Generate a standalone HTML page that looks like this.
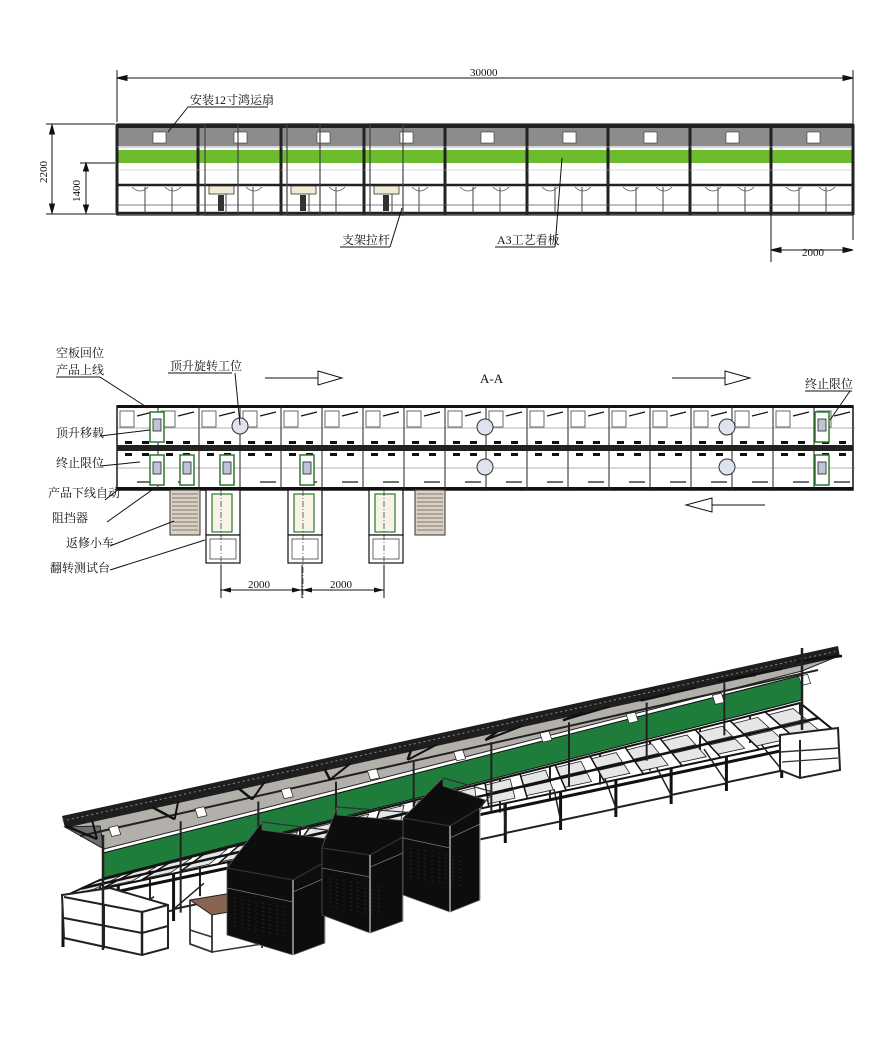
<!DOCTYPE html>
<html><head><meta charset="utf-8">
<style>
html,body{margin:0;padding:0;background:#fff}
svg{display:block}
text{font-family:"Liberation Serif","Noto Serif CJK SC","Noto Sans CJK SC",serif;fill:#111}
.cn{font-size:12px}
</style></head>
<body>
<svg id="s" width="880" height="1045" viewBox="0 0 880 1045" xmlns="http://www.w3.org/2000/svg">
<g fill="none" stroke="#111" stroke-width="1">
<line x1="117" y1="78" x2="853" y2="78"/>
<line x1="117" y1="70" x2="117" y2="122"/><line x1="853" y1="70" x2="853" y2="240"/>
<polygon points="117,78 127,75.5 127,80.5" fill="#111"/><polygon points="853,78 843,75.5 843,80.5" fill="#111"/>
<line x1="52" y1="125" x2="52" y2="213"/><line x1="46" y1="124" x2="115" y2="124"/><line x1="46" y1="214" x2="115" y2="214"/>
<polygon points="52,125 49.5,134 54.5,134" fill="#111"/><polygon points="52,213 49.5,204 54.5,204" fill="#111"/>
<line x1="86" y1="163" x2="86" y2="213"/><line x1="80" y1="163" x2="115" y2="163"/>
<polygon points="86,163 83.5,171 88.5,171" fill="#111"/><polygon points="86,213 83.5,205 88.5,205" fill="#111"/>
<line x1="771" y1="250" x2="853" y2="250"/><line x1="771" y1="215" x2="771" y2="262"/>
<polygon points="771,250 781,247.5 781,252.5" fill="#111"/><polygon points="853,250 843,247.5 843,252.5" fill="#111"/>
</g>
<text x="470" y="76" font-size="11">30000</text>
<text x="47" y="183" font-size="11" transform="rotate(-90 47 183)">2200</text>
<text x="80" y="202" font-size="11" transform="rotate(-90 80 202)">1400</text>
<text x="802" y="256" font-size="11">2000</text>

<rect x="117" y="124" width="736" height="4" fill="#222"/>
<rect x="117" y="128" width="736" height="18" fill="#8c8c8c"/>
<rect x="117" y="150" width="736" height="13" fill="#6dbb2e"/>
<line x1="117" y1="185" x2="853" y2="185" stroke="#222" stroke-width="2.5"/>
<line x1="117" y1="213" x2="853" y2="213" stroke="#222" stroke-width="2.5"/>
<g id="elev"></g>

<text x="190" y="104" class="cn">安装12寸鸿运扇</text>
<line x1="188" y1="107" x2="268" y2="107" stroke="#111"/>
<line x1="188" y1="107" x2="168" y2="132" stroke="#111"/>
<text x="342" y="244" class="cn">支架拉杆</text>
<line x1="340" y1="247" x2="390" y2="247" stroke="#111"/>
<line x1="390" y1="247" x2="402" y2="208" stroke="#111"/>
<text x="497" y="244" class="cn">A3工艺看板</text>
<line x1="495" y1="247" x2="555" y2="247" stroke="#111"/>
<line x1="555" y1="247" x2="562" y2="158" stroke="#111"/>

<g id="plan"></g>
<text x="56" y="357" class="cn">空板回位</text>
<text x="56" y="374" class="cn">产品上线</text>
<line x1="56" y1="377" x2="100" y2="377" stroke="#111"/>
<line x1="100" y1="377" x2="148" y2="408" stroke="#111"/>
<text x="170" y="370" class="cn">顶升旋转工位</text>
<line x1="168" y1="373" x2="232" y2="373" stroke="#111"/>
<line x1="235" y1="373" x2="240" y2="425" stroke="#111"/>
<text x="56" y="437" class="cn">顶升移载</text>
<line x1="100" y1="436" x2="150" y2="430" stroke="#111"/>
<text x="56" y="467" class="cn">终止限位</text>
<line x1="100" y1="466" x2="140" y2="462" stroke="#111"/>
<text x="48" y="497" class="cn" font-size="11">产品下线自动</text>
<line x1="105" y1="500" x2="120" y2="488" stroke="#111"/>
<text x="52" y="522" class="cn">阻挡器</text>
<line x1="107" y1="522" x2="152" y2="490" stroke="#111"/>
<text x="66" y="547" class="cn">返修小车</text>
<line x1="110" y1="546" x2="174" y2="521" stroke="#111"/>
<text x="50" y="572" class="cn">翻转测试台</text>
<line x1="110" y1="570" x2="205" y2="540" stroke="#111"/>
<text x="480" y="383" font-size="13">A-A</text>
<text x="805" y="388" class="cn">终止限位</text>
<line x1="805" y1="391" x2="852" y2="391" stroke="#111"/>
<line x1="850" y1="391" x2="830" y2="420" stroke="#111"/>
<g stroke="#111" fill="#fff">
<line x1="265" y1="378" x2="318" y2="378"/><polygon points="318,371 342,378 318,385"/>
<line x1="672" y1="378" x2="725" y2="378"/><polygon points="725,371 750,378 725,385"/>
<line x1="765" y1="505" x2="712" y2="505"/><polygon points="712,498 686,505 712,512"/>
</g>
<g stroke="#111">
<line x1="220" y1="590" x2="384" y2="590"/>
<line x1="221" y1="565" x2="221" y2="598"/><line x1="302" y1="565" x2="302" y2="598"/><line x1="384" y1="565" x2="384" y2="598"/>
</g>
<g fill="#111"><polygon points="221,590 231,587.5 231,592.5"/><polygon points="302,590 292,587.5 292,592.5"/><polygon points="302,590 312,587.5 312,592.5"/><polygon points="384,590 374,587.5 374,592.5"/></g>
<text x="248" y="588" font-size="11">2000</text>
<text x="330" y="588" font-size="11">2000</text>

<g id="iso"></g>
</svg>
<script>
var NS="http://www.w3.org/2000/svg";
function el(p,t,a){var e=document.createElementNS(NS,t);for(var k in a)e.setAttribute(k,a[k]);p.appendChild(e);return e;}
function pts(a){return a.map(function(p){return p[0].toFixed(1)+','+p[1].toFixed(1)}).join(' ');}
var E=document.getElementById('elev');
var xs=[117,198,281,364,445,527,608,690,771,853];
for(var i=0;i<xs.length;i++){el(E,'rect',{x:xs[i]-1.5,y:124,width:3,height:91,fill:'#222'});}
for(var i=0;i<9;i++){var x=xs[i];el(E,'rect',{x:x+36,y:132,width:13,height:11,fill:'#fff',stroke:'#333','stroke-width':0.6});
 el(E,'line',{x1:x,y1:147,x2:x+81,y2:147,stroke:'#999','stroke-width':0.8});
 el(E,'line',{x1:x,y1:170,x2:x+81,y2:170,stroke:'#bbb','stroke-width':0.6});
 el(E,'line',{x1:x+28,y1:187,x2:x+28,y2:213,stroke:'#444','stroke-width':1});
 el(E,'line',{x1:x+55,y1:187,x2:x+55,y2:213,stroke:'#444','stroke-width':1});
 el(E,'line',{x1:x,y1:205,x2:x+81,y2:205,stroke:'#555','stroke-width':0.8});
 el(E,'path',{d:'M'+(x+15)+' 187 q8 8 16 0 M'+(x+48)+' 187 q8 8 16 0',fill:'none',stroke:'#555','stroke-width':0.8});}
[208,290,373].forEach(function(x){el(E,'rect',{x:x-3,y:124,width:33,height:91,fill:'none',stroke:'#444','stroke-width':1.2});
 el(E,'rect',{x:x+1,y:186,width:25,height:8,fill:'#f2ecd6',stroke:'#333','stroke-width':0.8});
 el(E,'rect',{x:x+10,y:195,width:6,height:16,fill:'#333'});});
el(E,'rect',{x:117,y:124,width:736,height:91,fill:'none',stroke:'#222','stroke-width':1.2});
var P=document.getElementById('plan');
el(P,'rect',{x:117,y:406,width:736,height:84,fill:'#fff',stroke:'#111','stroke-width':1.5});
el(P,'rect',{x:117,y:445,width:736,height:6,fill:'#222'});
el(P,'rect',{x:117,y:405,width:736,height:3,fill:'#111'});
el(P,'rect',{x:117,y:487,width:736,height:3,fill:'#111'});
for(var x=117;x<853;x+=41){
 el(P,'line',{x1:x,y1:406,x2:x,y2:490,stroke:'#222','stroke-width':1});
 el(P,'rect',{x:x+3,y:411,width:14,height:16,fill:'none',stroke:'#444','stroke-width':0.8});
 el(P,'rect',{x:x+8,y:441,width:7,height:3,fill:'#111'});el(P,'rect',{x:x+25,y:441,width:7,height:3,fill:'#111'});
 el(P,'rect',{x:x+8,y:453,width:7,height:3,fill:'#111'});el(P,'rect',{x:x+25,y:453,width:7,height:3,fill:'#111'});
 el(P,'line',{x1:x+20,y1:416,x2:x+36,y2:412,stroke:'#111','stroke-width':1.2});
 el(P,'line',{x1:x+20,y1:482,x2:x+36,y2:482,stroke:'#111','stroke-width':1.2});
 el(P,'line',{x1:x,y1:428,x2:x+41,y2:428,stroke:'#666','stroke-width':0.6});
 el(P,'line',{x1:x,y1:468,x2:x+41,y2:468,stroke:'#666','stroke-width':0.6});}
[[240,426],[485,427],[727,427],[485,467],[727,467]].forEach(function(c){el(P,'circle',{cx:c[0],cy:c[1],r:8,fill:'#dfe3ee',stroke:'#333','stroke-width':1});});
[[150,412],[150,455],[180,455],[220,455],[300,455],[815,412],[815,455]].forEach(function(c){
 el(P,'rect',{x:c[0],y:c[1],width:14,height:30,fill:'#fff',stroke:'#2a7a2a','stroke-width':1.5});
 el(P,'rect',{x:c[0]+3,y:c[1]+7,width:8,height:12,fill:'#bcc6d8',stroke:'#222','stroke-width':0.8});});
[170,415].forEach(function(x){el(P,'rect',{x:x,y:490,width:30,height:45,fill:'#d9d1c6',stroke:'#333','stroke-width':1});
 for(var y=494;y<533;y+=4)el(P,'line',{x1:x+2,y1:y,x2:x+28,y2:y,stroke:'#6a5a4a','stroke-width':0.8});});
[205,287,368].forEach(function(x){
 el(P,'rect',{x:x+1,y:490,width:34,height:45,fill:'#fff',stroke:'#111','stroke-width':1.2});
 el(P,'rect',{x:x+7,y:494,width:20,height:38,fill:'#f7f3e6',stroke:'#2a7a2a','stroke-width':1.2});
 el(P,'rect',{x:x+1,y:535,width:34,height:28,fill:'#fff',stroke:'#111','stroke-width':1.2});
 el(P,'rect',{x:x+5,y:539,width:26,height:20,fill:'none',stroke:'#444','stroke-width':0.8});
 el(P,'line',{x1:x+16,y1:490,x2:x+16,y2:598,stroke:'#111','stroke-width':0.6,'stroke-dasharray':'6 2 1 2'});});

var G=document.getElementById('iso');
function lerp(a,b,t){return [a[0]+(b[0]-a[0])*t,a[1]+(b[1]-a[1])*t];}
var F0=[63,897],F1=[837,733], B0=[100,880],B1=[800,703];
function F(t){return lerp(F0,F1,t);} function B(t){return lerp(B0,B1,t);}
el(G,'polygon',{points:pts([F0,F1,B1,B0]),fill:'#fff',stroke:'#111','stroke-width':2});
for(var i=0;i<=14;i++){var t=i/14,p=F(t),h=50-18*t;
 el(G,'line',{x1:p[0],y1:p[1],x2:p[0],y2:p[1]+h,stroke:'#111','stroke-width':3});
 var q=B(t); el(G,'line',{x1:q[0],y1:q[1],x2:q[0],y2:q[1]+h-6,stroke:'#222','stroke-width':2});
 if(i<14){var p2=F((i+1)/14);el(G,'line',{x1:p[0],y1:p[1]+h*0.75,x2:p2[0],y2:p2[1]+h*0.75,stroke:'#222','stroke-width':2});
 el(G,'line',{x1:p[0],y1:p[1]+h*0.75,x2:q[0]+4,y2:q[1]+h*0.6,stroke:'#222','stroke-width':1.5});}}
el(G,'line',{x1:F0[0],y1:F0[1]+6,x2:F1[0],y2:F1[1]+6,stroke:'#111','stroke-width':3});
for(var i=0;i<20;i++){var t=i/20,t2=(i+0.7)/20;
 var a=lerp(F(t),B(t),0.12),b=lerp(F(t2),B(t2),0.12),c=lerp(F(t2),B(t2),0.45),d=lerp(F(t),B(t),0.45);
 el(G,'polygon',{points:pts([a,b,c,d]),fill:'#e6e6e6',stroke:'#222','stroke-width':0.8});
 a=lerp(F(t),B(t),0.55);b=lerp(F(t2),B(t2),0.55);c=lerp(F(t2),B(t2),0.9);d=lerp(F(t),B(t),0.9);
 el(G,'polygon',{points:pts([a,b,c,d]),fill:'#e6e6e6',stroke:'#222','stroke-width':0.8});
 var u=F(t),v=B(t);el(G,'line',{x1:u[0],y1:u[1],x2:v[0],y2:v[1],stroke:'#111','stroke-width':1.5});}
var m1=lerp(F0,B0,0.5),m2=lerp(F1,B1,0.5);
el(G,'line',{x1:m1[0],y1:m1[1],x2:m2[0],y2:m2[1],stroke:'#111','stroke-width':2.5});
el(G,'polygon',{points:'780,735 838,728 840,770 800,778 780,770',fill:'#fff',stroke:'#222','stroke-width':2});
el(G,'line',{x1:800,y1:740,x2:800,y2:778,stroke:'#222','stroke-width':2});
el(G,'line',{x1:780,y1:752,x2:840,y2:748,stroke:'#333','stroke-width':1.5});
el(G,'line',{x1:782,y1:762,x2:838,y2:758,stroke:'#333','stroke-width':1.2});
el(G,'polygon',{points:'62,895 110,888 168,905 168,948 142,955 64,938',fill:'#fff',stroke:'#222','stroke-width':2});
el(G,'line',{x1:64,y1:897,x2:142,y2:912,stroke:'#222','stroke-width':2});
el(G,'line',{x1:142,y1:912,x2:142,y2:955,stroke:'#222','stroke-width':2.5});
el(G,'line',{x1:64,y1:918,x2:142,y2:933,stroke:'#222','stroke-width':2});
el(G,'line',{x1:142,y1:933,x2:168,y2:926,stroke:'#222','stroke-width':2});
el(G,'line',{x1:142,y1:912,x2:168,y2:905,stroke:'#222','stroke-width':2});
el(G,'line',{x1:104,y1:905,x2:104,y2:948,stroke:'#222','stroke-width':2});
var R0=[62,816],R1=[838,646];
var G0=[103,853],G1=[802,675];
function R(t){return lerp(R0,R1,t);} function Gt(t){return lerp(G0,G1,t);}
el(G,'polygon',{points:pts([[65,827],[836,657],[802,671],[104,849]]),fill:'#b3afab',stroke:'#222','stroke-width':1});
el(G,'polygon',{points:pts([[65,827],[100,826],[104,849]]),fill:'#6e6e6e',stroke:'#222'});
el(G,'polygon',{points:pts([G0,G1,[802,700],[103,878]]),fill:'#1f7d3c',stroke:'#111','stroke-width':1});
el(G,'polygon',{points:pts([R0,R1,[840,657],[65,828]]),fill:'#1e1e1e'});
el(G,'line',{x1:62,y1:821,x2:838,y2:651,stroke:'#888','stroke-width':1,'stroke-dasharray':'2 3'});
el(G,'line',{x1:80,y1:836,x2:818,y2:670,stroke:'#222','stroke-width':2});
for(var i=0;i<=9;i++){var t=i/9;var r=R(t),g=Gt(t);
 el(G,'line',{x1:r[0]+4,y1:r[1]+10,x2:g[0]-6,y2:g[1]-14,stroke:'#111','stroke-width':2.5});
 if(i<9)el(G,'line',{x1:r[0]+30,y1:r[1]+4,x2:g[0]-6,y2:g[1]-14,stroke:'#111','stroke-width':2});
 if(i<9){var w=R((i+0.45)/9);
  el(G,'polygon',{points:pts([[w[0]+8,w[1]+20],[w[0]+17,w[1]+18],[w[0]+20,w[1]+27],[w[0]+11,w[1]+29]]),fill:'#fff',stroke:'#222','stroke-width':0.7});}
 el(G,'line',{x1:g[0],y1:g[1]-12,x2:g[0],y2:g[1]+85-50*t,stroke:'#222','stroke-width':2});}
el(G,'line',{x1:802,y1:648,x2:802,y2:730,stroke:'#222','stroke-width':2.5});
el(G,'line',{x1:103,y1:835,x2:103,y2:950,stroke:'#222','stroke-width':2.5});
el(G,'polygon',{points:'190,900 238,892 262,906 212,915',fill:'#8a6450',stroke:'#222'});
el(G,'polyline',{points:'190,900 190,944 212,952 212,915',fill:'none',stroke:'#333','stroke-width':1.8});
el(G,'line',{x1:262,y1:906,x2:262,y2:948,stroke:'#333','stroke-width':1.8});
el(G,'line',{x1:212,y1:952,x2:262,y2:944,stroke:'#333','stroke-width':1.5});
el(G,'line',{x1:190,y1:930,x2:212,y2:937,stroke:'#333','stroke-width':1.5});
[[227,262,293,325,343,868,822,880,955,935,832],[322,337,370,403,417,848,807,855,933,915,813],[403,443,450,480,493,818,778,826,912,895,792]].forEach(function(c){
 var xl=c[0],xt=c[1],xf=c[2],xs_=c[3],xb=c[4],yl=c[5],yt=c[6],yf=c[7],ybf=c[8],ybl=c[9],ytb=c[10];
 el(G,'polygon',{points:pts([[xl,ybl],[xl,yl],[xt,yt],[xt,yt+8],[xb-8,ytb+8],[xs_,yf-14],[xs_,ybf-12],[xf,ybf]]),fill:'#0d0d0d',stroke:'#555','stroke-width':0.8});
 el(G,'polyline',{points:pts([[xt,yt],[xb,ytb],[xs_,yf-18],[xf,yf],[xl,yl]]),fill:'none',stroke:'#333','stroke-width':1.2});
 el(G,'line',{x1:xf,y1:yf,x2:xf,y2:ybf,stroke:'#aaa','stroke-width':1.5});
 el(G,'line',{x1:xl,y1:yl+20,x2:xf,y2:yf+22,stroke:'#777','stroke-width':0.8});
 el(G,'line',{x1:xf,y1:yf+12,x2:xs_,y2:yf-2,stroke:'#777','stroke-width':0.8});
 el(G,'line',{x1:xs_,y1:yf-18,x2:xs_,y2:ybf-12,stroke:'#aaa','stroke-width':1.2});
 for(var k=0;k<8;k++)el(G,'line',{x1:xl+8+k*7,y1:yl+30+k*1.2,x2:xl+8+k*7,y2:yl+60+k*1.2,stroke:'#555','stroke-width':0.6,'stroke-dasharray':'1 3'});
});
</script>
</body></html>
